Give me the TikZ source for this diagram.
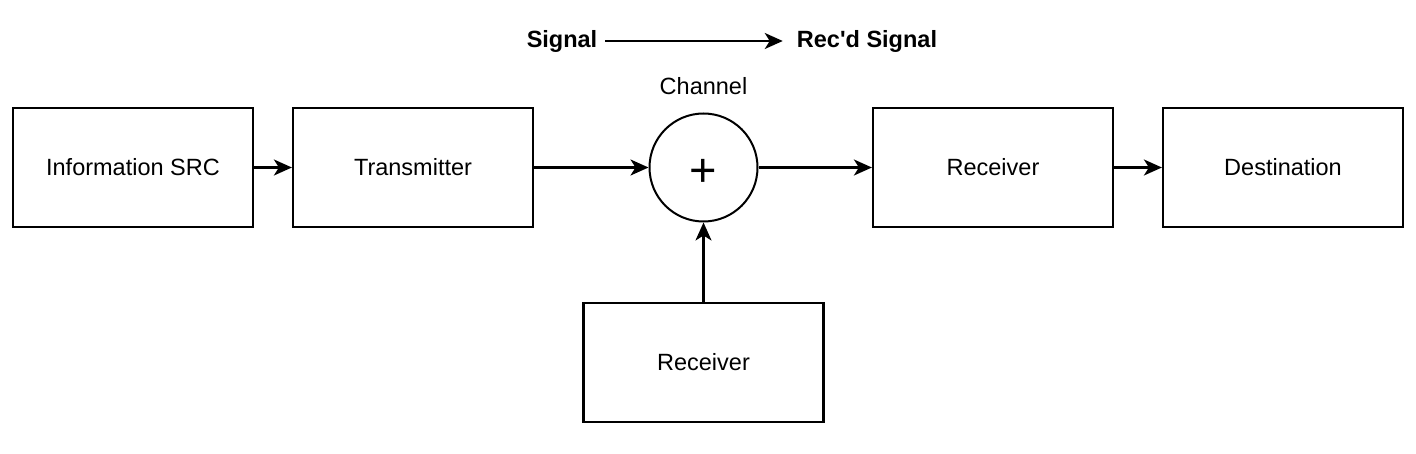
\documentclass[tikz,border=0pt]{standalone}
\usepackage{fontspec}
\setmainfont{Liberation Sans}
\usetikzlibrary{arrows.meta}
\begin{document}
\begin{tikzpicture}[x=1pt,y=-1pt,
  blk/.style={draw,line width=2.2pt,minimum width=240pt,minimum height=119pt,inner sep=0pt,font=\fontsize{23.5}{28}\selectfont},
  sumnode/.style={draw,circle,line width=2pt,minimum size=108pt,inner sep=0pt,font=\fontsize{47}{50}\selectfont},
  lbl/.style={inner sep=0pt,font=\fontsize{23.5}{28}\selectfont},
  blbl/.style={inner sep=0pt,font=\fontsize{23.5}{28}\selectfont\bfseries},
  conn/.style={line width=2.2pt,-{Stealth[length=18pt,width=16pt,inset=5pt]}}]
\useasboundingbox (0,0) rectangle (1416,454);
\node[blk] (src) at (133,167.5) {Information SRC};
\node[blk] (tx) at (413,167.5) {Transmitter};
\node[sumnode] (ch) at (703.5,167.5) {\raisebox{-19pt}[0pt][0pt]{+}};
\node[blk] (rx) at (993,167.5) {Receiver};
\node[blk] (dst) at (1283,167.5) {Destination};
\node[blk] (noise) at (703.5,362.5) {Receiver};
\node[lbl] (chl) at (703.5,86) {Channel};
\node[blbl] (sig) at (562,41) {Signal};
\node[blbl] (rsig) at (867,41) {Rec\textquotesingle d Signal};
\draw[conn] (src) -- (tx);
\draw[conn] (tx) -- (ch);
\draw[conn] (ch) -- (rx);
\draw[conn] (rx) -- (dst);
\draw[conn] (noise) -- (ch);
\draw[conn] ([xshift=8pt]sig.east) -- ([xshift=-14pt]rsig.west);
\end{tikzpicture}
\end{document}
